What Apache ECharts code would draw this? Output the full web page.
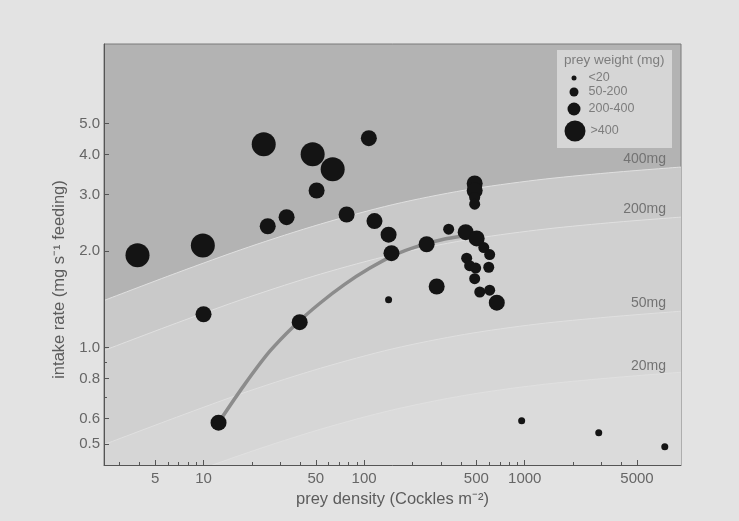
<!DOCTYPE html>
<html><head><meta charset="utf-8">
<script src="https://cdn.jsdelivr.net/npm/echarts@6/dist/echarts.min.js"></script>
<style>html,body{margin:0;padding:0;background:#e3e3e3}#c{width:739px;height:521px}</style>
</head><body><div id="c"></div><script>
// ---- axis ticks ----
const xTickLabels = [5, 10, 50, 100, 500, 1000, 5000];
const xMinorTicks = [3, 4, 6, 7, 8, 9, 20, 30, 40, 60, 70, 80, 90, 200, 300, 400, 600, 700, 800, 900, 2000, 3000, 4000];
const yTickLabels = [0.5, 0.6, 0.8, 1.0, 2.0, 3.0, 4.0, 5.0];
const yMinorTicks = [0.7, 0.9];

// ---- prey-weight boundary curves ----
const curveDensity = [2.4, 6.79, 19.1, 53.6, 151, 423, 1188, 3334, 9400];
const curve400 = [1.402, 1.708, 2.058, 2.428, 2.792, 3.097, 3.331, 3.508, 3.656];
const curve200 = [0.979, 1.192, 1.436, 1.695, 1.949, 2.162, 2.325, 2.449, 2.552];
const curve50  = [0.498, 0.606, 0.731, 0.862, 0.991, 1.099, 1.183, 1.245, 1.298];
const curve20  = [0.321, 0.391, 0.471, 0.556, 0.639, 0.709, 0.763, 0.803, 0.837];

// ---- fitted functional response ----
const fitDensity = [12.4, 18.0, 25.8, 36.9, 52.8, 75.6, 108, 155, 222, 317, 394];
const fitIntake  = [0.583, 0.766, 0.972, 1.172, 1.372, 1.574, 1.766, 1.946, 2.08, 2.18, 2.22];

// ---- observations by prey weight class ----
const over400Density = [3.88, 9.9, 23.7, 47.8, 63.7];
const over400Intake  = [1.94, 2.08, 4.31, 4.01, 3.60];

const w200to400Density = [107, 50.6, 32.9, 25.1, 77.8, 116, 142, 148, 245, 10, 39.7, 12.4, 283, 429, 502, 670, 488, 488];
const w200to400Intake  = [4.50, 3.09, 2.55, 2.39, 2.60, 2.48, 2.25, 1.97, 2.10, 1.27, 1.20, 0.583, 1.55, 2.29, 2.19, 1.38, 3.25, 3.09];

const w50to200Density = [488, 488, 336, 556, 605, 435, 454, 495, 597, 488, 525, 605];
const w50to200Intake  = [2.94, 2.80, 2.34, 2.05, 1.95, 1.90, 1.80, 1.77, 1.78, 1.64, 1.49, 1.51];

const under20Density = [142, 957, 2890, 7450];
const under20Intake  = [1.41, 0.591, 0.542, 0.49];

const zip = (a, b) => a.map((v, i) => [v, b[i]]);

function bandData(ys, text, dy) {
  return curveDensity.map((x, i) => i === curveDensity.length - 1
    ? { value: [x, ys[i]], label: { show: true, formatter: text, position: 'left', distance: 5, offset: [-10, dy],
        color: '#737373', fontSize: 14, fontFamily: 'Liberation Sans' } }
    : [x, ys[i]]);
}
function band(ys, color, text, dy) {
  return {
    type: 'line', data: bandData(ys, text, dy), smooth: 0.3, symbol: 'circle', symbolSize: 0, showSymbol: true,
    lineStyle: { color: '#e0e0e0', width: 1 }, areaStyle: { color: color, opacity: 1, origin: 'start' },
    z: 1, silent: true, label: { show: false }
  };
}

const GRID = { left: 104, right: 58, top: 44, bottom: 56 };
const font = 'Liberation Sans';
const sizes = { '<20': 7, '50-200': 11, '200-400': 16, '>400': 24 };
const legendIcon = [
  { name: '<20', s: 5, cx: 574, cy: 79, pad: 7 },
  { name: '50-200', s: 9, cx: 574, cy: 93, pad: 5 },
  { name: '200-400', s: 13, cx: 574, cy: 110, pad: 3 },
  { name: '>400', s: 21, cx: 575, cy: 131, pad: 0 }
];

const chart = echarts.init(document.getElementById('c'), null, { renderer: 'canvas' });
chart.setOption({
  animation: false,
  backgroundColor: '#e3e3e3',
  textStyle: { fontFamily: font },
  grid: [
    Object.assign({ show: true, backgroundColor: '#b3b3b3', borderColor: '#7a7a7a', borderWidth: 1 }, GRID),
    Object.assign({ show: false }, GRID)
  ],
  title: { text: 'prey weight (mg)', left: 564, top: 53, padding: 0, z: 12,
    textStyle: { color: '#7d7d7d', fontSize: 13.5, fontWeight: 'normal', fontFamily: font } },
  graphic: { elements: [{ type: 'rect', z: 10, shape: { x: 557, y: 50, width: 115, height: 98 }, style: { fill: '#d6d6d6' } }] },
  legend: legendIcon.map(l => ({
    data: [{ name: l.name, icon: 'circle' }], selectedMode: false, padding: 0, z: 12,
    itemWidth: l.s, itemHeight: l.s, left: l.cx - l.s / 2, top: l.cy - Math.max(l.s, 15) / 2,
    textStyle: { color: '#7d7d7d', fontSize: 12.5, fontFamily: font, padding: [0, 0, 0, l.pad] }
  })),
  xAxis: [
    { type: 'log', gridIndex: 0, min: 2.4, max: 9400, z: 10,
      name: 'prey density (Cockles m\u207B\u00B2)', nameLocation: 'middle', nameGap: 23,
      nameTextStyle: { color: '#5c5c5c', fontSize: 16.5, fontFamily: font },
      axisLine: { show: true, lineStyle: { color: '#555', width: 1 } },
      axisTick: { show: true, inside: true, length: 5, customValues: xTickLabels, lineStyle: { color: '#555' } },
      axisLabel: { show: true, customValues: xTickLabels, margin: 6, color: '#666', fontSize: 15, fontFamily: font, formatter: v => String(v) },
      splitLine: { show: false }, minorTick: { show: false } },
    { type: 'log', gridIndex: 1, min: 2.4, max: 9400, z: 10,
      axisLine: { show: false }, axisLabel: { show: false }, splitLine: { show: false },
      axisTick: { show: true, inside: true, length: 3, customValues: xMinorTicks, lineStyle: { color: '#555' } } }
  ],
  yAxis: [
    { type: 'log', gridIndex: 0, min: 0.43, max: 8.85, z: 10,
      name: 'intake rate (mg s\u207B\u00B9 feeding)', nameLocation: 'middle', nameGap: 33,
      nameTextStyle: { color: '#5c5c5c', fontSize: 16.5, fontFamily: font, padding: [0, 50, 0, 0] },
      axisLine: { show: true, lineStyle: { color: '#555', width: 1 } },
      axisTick: { show: true, inside: true, length: 5, customValues: yTickLabels, lineStyle: { color: '#555' } },
      axisLabel: { show: true, customValues: yTickLabels, margin: 4, color: '#666', fontSize: 15, fontFamily: font, formatter: v => Number(v).toFixed(1) },
      splitLine: { show: false } },
    { type: 'log', gridIndex: 1, min: 0.43, max: 8.85, z: 10,
      axisLine: { show: false }, axisLabel: { show: false }, splitLine: { show: false },
      axisTick: { show: true, inside: true, length: 3, customValues: yMinorTicks, lineStyle: { color: '#555' } } }
  ],
  series: [
    band(curve400, '#c9c9c9', '400mg', -8),
    band(curve200, '#d0d0d0', '200mg', -8),
    band(curve50, '#d6d6d6', '50mg', -8),
    band(curve20, '#dbdbdb', '20mg', -6),
    { type: 'line', data: zip(fitDensity, fitIntake), smooth: 0.3, showSymbol: false, z: 2, silent: true,
      lineStyle: { color: '#8c8c8c', width: 3.5 } },
    { name: '>400', type: 'scatter', data: zip(over400Density, over400Intake), symbolSize: sizes['>400'], z: 3, itemStyle: { color: '#141414', opacity: 1 } },
    { name: '200-400', type: 'scatter', data: zip(w200to400Density, w200to400Intake), symbolSize: sizes['200-400'], z: 3, itemStyle: { color: '#141414', opacity: 1 } },
    { name: '50-200', type: 'scatter', data: zip(w50to200Density, w50to200Intake), symbolSize: sizes['50-200'], z: 3, itemStyle: { color: '#141414', opacity: 1 } },
    { name: '<20', type: 'scatter', data: zip(under20Density, under20Intake), symbolSize: sizes['<20'], z: 3, itemStyle: { color: '#141414', opacity: 1 } }
  ]
});
</script></body></html>
